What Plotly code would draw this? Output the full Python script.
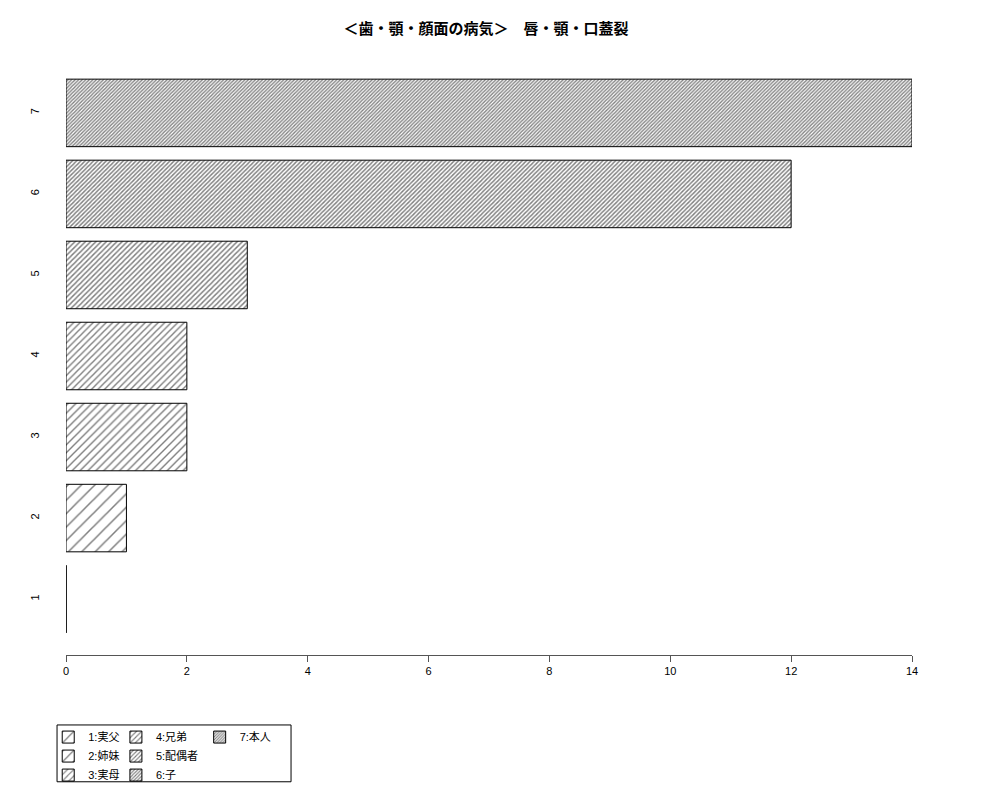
import plotly.graph_objects as go

# data
categories = ["1", "2", "3", "4", "5", "6", "7"]
values = [0, 1, 2, 2, 3, 12, 14]
names = ["1:実父", "2:姉妹", "3:実母", "4:兄弟", "5:配偶者", "6:子", "7:本人"]
title_text = "＜歯・顎・顔面の病気＞　唇・顎・口蓋裂"

# hatch spacing per bar (denser for higher code)
hatch_size = [11, 9.5, 5.6, 4.6, 3.7, 3.0, 2.5]
hatch_solid = [0.15, 0.16, 0.25, 0.3, 0.38, 0.46, 0.54]

FONT = "Liberation Sans, Arial, Noto Sans CJK JP, sans-serif"
bar_w = 1 / 1.2

fig = go.Figure()

for i, cat in enumerate(categories):
    col = i // 3  # legend column, filled top to bottom like R
    fig.add_trace(go.Bar(
        x=[values[i]], y=[i + 1],
        orientation="h",
        width=bar_w,
        name=names[i],
        legend="legend" if col == 0 else f"legend{col + 1}",
        cliponaxis=False,
        marker=dict(
            color="white",
            line=dict(color="black", width=1),
            pattern=dict(shape="/", fgcolor="black", bgcolor="white",
                         size=hatch_size[i], solidity=hatch_solid[i]),
        ),
    ))

# zero-length bars show as a line in R
for i, v in enumerate(values):
    if v == 0:
        fig.add_shape(type="line", xref="x", yref="y",
                      x0=v, x1=v, y0=i + 1 - bar_w / 2, y1=i + 1 + bar_w / 2,
                      line=dict(color="black", width=1))

# legend box
fig.add_shape(type="rect", xref="paper", yref="paper",
              x0=-0.0106, x1=0.266, y0=-0.212, y1=-0.117,
              line=dict(color="black", width=1))

leg = dict(orientation="v", xanchor="left", yanchor="top",
           bgcolor="rgba(0,0,0,0)", borderwidth=0,
           font=dict(family=FONT, size=11, color="black"),
           tracegroupgap=0, itemwidth=30)

# the page body adds an 8px offset, so margins are shifted by 8
fig.update_layout(
    width=1000, height=800,
    plot_bgcolor="white", paper_bgcolor="white",
    margin=dict(l=58, r=96, t=49, b=153),
    barmode="overlay",
    title=dict(text="<b>" + title_text + "</b>", x=0.478, xanchor="center",
               y=0.974, yanchor="middle",
               font=dict(family=FONT, size=15, color="black")),
    xaxis=dict(range=[0, 14], dtick=2, showgrid=False, zeroline=False,
               showline=True, linecolor="#555", linewidth=1,
               ticks="outside", ticklen=6, tickcolor="#555",
               tickfont=dict(family=FONT, size=11, color="black"),
               automargin=False, fixedrange=True),
    yaxis=dict(range=[0.31, 7.69], tickvals=list(range(1, len(categories) + 1)),
               ticktext=categories, tickangle=-90, showgrid=False,
               zeroline=False, showline=False, ticks="",
               ticklabelstandoff=24, automargin=False,
               tickfont=dict(family=FONT, size=11, color="black")),
    showlegend=True,
    legend=dict(leg, x=-0.021, y=-0.113),
    legend2=dict(leg, x=0.059, y=-0.113),
    legend3=dict(leg, x=0.158, y=-0.113),
)

fig.write_html("out.html")
